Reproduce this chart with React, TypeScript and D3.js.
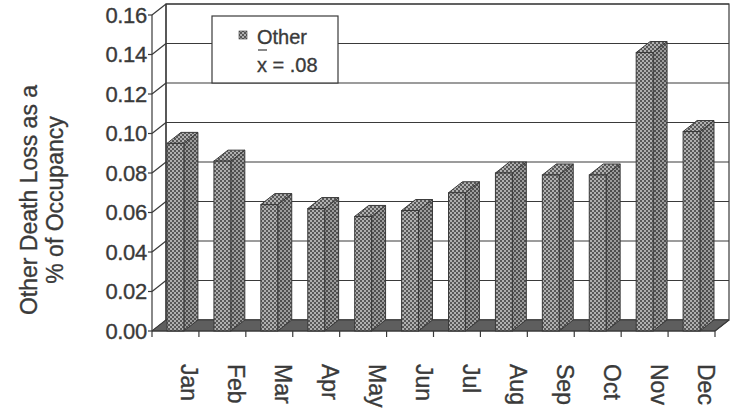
import React from "react";
import * as d3 from "d3";

const months = ["Jan", "Feb", "Mar", "Apr", "May", "Jun", "Jul", "Aug", "Sep", "Oct", "Nov", "Dec"];
const values = [0.095, 0.086, 0.064, 0.062, 0.058, 0.061, 0.070, 0.080, 0.079, 0.079, 0.141, 0.101];
const yTicks = [0, 0.02, 0.04, 0.06, 0.08, 0.10, 0.12, 0.14, 0.16];
const legendName = "Other";
const meanLabel = "x = .08";
const yTitle1 = "Other Death Loss as a";
const yTitle2 = "% of Occupancy";

const W = 733;
const H = 420;
const left = 152;
const right = 715;
const bottom = 331;
const top = 15;
const dx = 14;
const dy = -11;
const ink = "#3a3a3a";
const font = "'Liberation Sans', Arial, sans-serif";

export default function App() {
  const x = d3.scaleBand<string>().domain(months).range([left, right]).paddingInner(0.64).paddingOuter(0.32);
  const step = (right - left) / months.length;
  const bw = x.bandwidth();
  const y = d3.scaleLinear().domain([0, 0.16]).range([bottom, top]);
  const fmt = d3.format(".2f");
  const y0 = y(0);
  const yMax = y(0.16);

  const pts = (arr: number[][]) => arr.map((p) => p.join(",")).join(" ");
  const textStyle = { stroke: ink, strokeWidth: 0.35 };

  return (
    <svg width={W} height={H} style={{ position: "absolute", left: 0, top: 0, background: "#fff" }} fontFamily={font}>
      <defs>
        <pattern id="dots" width="4" height="4" patternUnits="userSpaceOnUse">
          <rect width="4" height="4" fill="#b0b0b0" />
          <rect x="0" y="0" width="2" height="2" fill="#585858" />
          <rect x="2" y="2" width="2" height="2" fill="#585858" />
        </pattern>
        <pattern id="dotsDark" width="4" height="4" patternUnits="userSpaceOnUse">
          <rect width="4" height="4" fill="#9c9c9c" />
          <rect x="0" y="0" width="2" height="2" fill="#4e4e4e" />
          <rect x="2" y="2" width="2" height="2" fill="#4e4e4e" />
        </pattern>
      </defs>

      {/* back wall */}
      <rect x={left + dx} y={yMax + dy} width={right - left} height={y0 - yMax} fill="#fff" stroke={ink} strokeWidth={1.2} />
      {yTicks.map((t) => (
        <g key={"g" + t}>
          <line x1={left + dx} x2={right + dx} y1={y(t) + dy} y2={y(t) + dy} stroke={ink} strokeWidth={1.2} />
          <line x1={left} x2={left + dx} y1={y(t)} y2={y(t) + dy} stroke={ink} strokeWidth={1.2} />
        </g>
      ))}
      {/* left wall edges */}
      <line x1={left} x2={left} y1={yMax} y2={y0} stroke={ink} strokeWidth={1.2} />
      <line x1={left + dx} x2={left + dx} y1={yMax + dy} y2={y0 + dy} stroke={ink} strokeWidth={1.2} />

      {/* floor */}
      <polygon
        points={pts([[left, y0], [left + dx, y0 + dy], [right + dx, y0 + dy], [right, y0]])}
        fill="#5e5e5e"
        stroke={ink}
        strokeWidth={1}
      />

      {/* legend */}
      <rect x={212} y={16} width={126} height={67} fill="#fff" stroke={ink} strokeWidth={1.2} />
      <rect x={239} y={31} width={8} height={8} fill="url(#dots)" stroke={ink} strokeWidth={0.6} />
      <text x={257} y={44} fontSize={20} fill={ink} style={textStyle}>{legendName}</text>
      <text x={257} y={72} fontSize={20} fill={ink} style={textStyle}>{meanLabel}</text>
      <line x1={258} x2={267} y1={50} y2={50} stroke={ink} strokeWidth={1.2} />

      {/* bars */}
      {months.map((m, i) => {
        const x0 = x(m) as number;
        const x1 = x0 + bw;
        const yt = y(values[i]);
        return (
          <g key={m}>
            <polygon
              points={pts([[x1, yt], [x1 + dx, yt + dy], [x1 + dx, y0 + dy], [x1, y0]])}
              fill="url(#dotsDark)"
              stroke={ink}
              strokeWidth={1}
            />
            <polygon
              points={pts([[x0, yt], [x0 + dx, yt + dy], [x1 + dx, yt + dy], [x1, yt]])}
              fill="url(#dots)"
              stroke={ink}
              strokeWidth={1}
            />
            <rect x={x0} y={yt} width={bw} height={y0 - yt} fill="url(#dots)" stroke={ink} strokeWidth={1} />
          </g>
        );
      })}

      {/* x axis */}
      <line x1={left} x2={right} y1={y0} y2={y0} stroke={ink} strokeWidth={1.2} />
      <line x1={right} x2={right + dx} y1={y0} y2={y0 + dy} stroke={ink} strokeWidth={1.2} />
      {d3.range(months.length + 1).map((i) => (
        <line key={"xt" + i} x1={left + i * step} x2={left + i * step} y1={y0} y2={y0 + 6} stroke={ink} strokeWidth={1.2} />
      ))}
      {months.map((m) => {
        const cx = (x(m) as number) + bw / 2 + 14;
        return (
          <text
            key={"l" + m}
            transform={`translate(${cx},364) rotate(90)`}
            fontSize={23}
            fill={ink}
            style={textStyle}
            dominantBaseline="central"
          >
            {m}
          </text>
        );
      })}

      {/* y axis ticks and labels */}
      {yTicks.map((t) => (
        <g key={"yt" + t}>
          <line x1={left - 4} x2={left} y1={y(t)} y2={y(t)} stroke={ink} strokeWidth={1.2} />
          <text x={147} y={y(t)} fontSize={22} fill={ink} style={textStyle} textAnchor="end" dominantBaseline="central" letterSpacing={-0.3}>
            {fmt(t)}
          </text>
        </g>
      ))}

      {/* y title */}
      <text transform="translate(37,200) rotate(-90)" fontSize={23} fill={ink} style={textStyle} textAnchor="middle">
        {yTitle1}
      </text>
      <text transform="translate(63,200) rotate(-90)" fontSize={23} fill={ink} style={textStyle} textAnchor="middle">
        {yTitle2}
      </text>
    </svg>
  );
}
